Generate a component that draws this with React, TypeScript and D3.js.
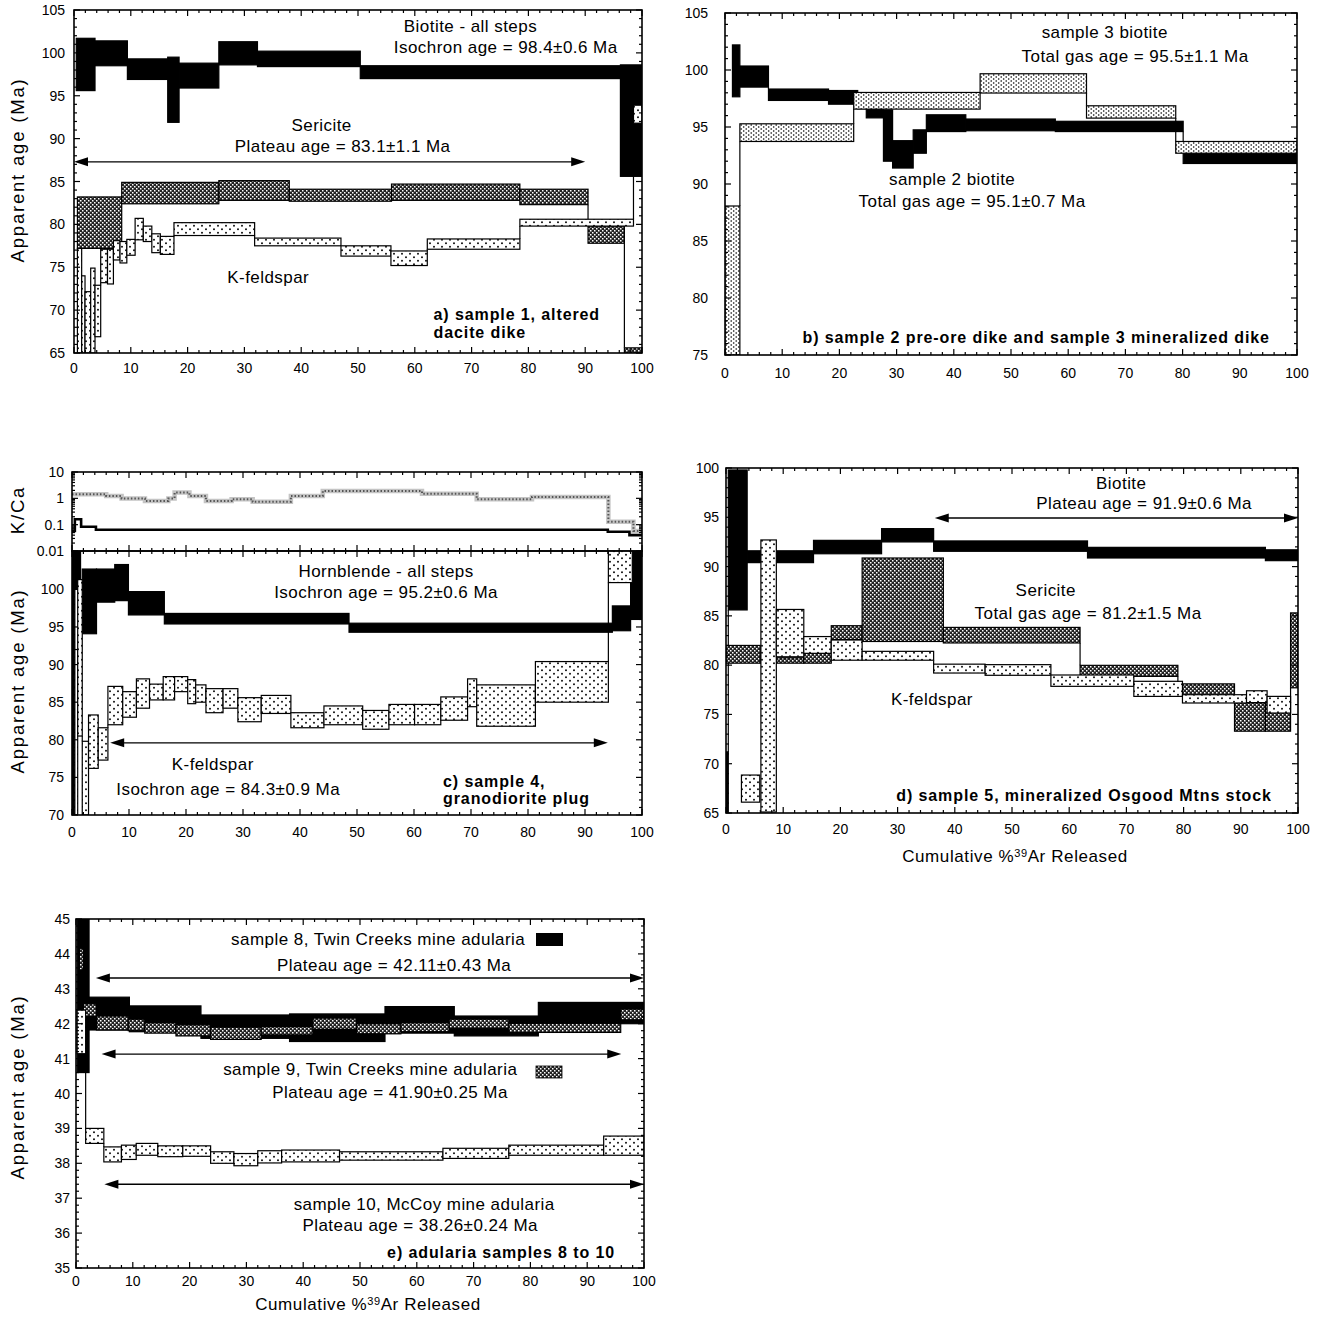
import React from 'react';
import * as d3 from 'd3';

type Step = [number, number, number, number]; // x0 %, x1 %, low age, high age
type KStep = [number, number, number];

// ---------- Panel a: sample 1 ----------
const aBiotite: Step[] = [
  [0.4, 3.7, 95.6, 101.7], [3.7, 9.4, 98.5, 101.4], [9.4, 16.5, 96.9, 99.3], [16.5, 18.5, 91.9, 99.5],
  [18.5, 25.5, 95.9, 98.8], [25.5, 32.3, 98.6, 101.3], [32.3, 50.4, 98.4, 100.2], [50.4, 96.2, 97.0, 98.5],
  [96.2, 100, 85.6, 98.6],
];
const aSericite: Step[] = [
  [0.6, 8.4, 77.2, 83.2], [8.4, 25.5, 82.4, 84.9], [25.5, 37.9, 82.8, 85.1], [37.9, 55.9, 82.7, 84.1],
  [55.9, 78.5, 82.8, 84.7], [78.5, 90.5, 82.3, 84.1], [90.5, 96.9, 77.8, 79.8], [96.9, 100, 65.0, 65.6],
];
const aKfeldspar: Step[] = [
  [0.6, 1.35, 65, 77.2], [1.35, 1.94, 65, 74.0], [1.94, 2.94, 65, 72.15], [2.94, 3.7, 65, 74.9],
  [3.7, 4.7, 66.9, 72.9], [4.7, 5.9, 73.2, 77.1], [5.9, 6.94, 73.05, 77.1], [6.94, 8.1, 75.85, 78.1],
  [8.1, 9.3, 75.5, 78.0], [9.3, 10.76, 76.4, 78.25], [10.76, 12.2, 78.2, 80.7], [12.2, 13.7, 78.0, 79.8],
  [13.7, 15.2, 76.7, 78.9], [15.2, 17.6, 76.5, 78.6], [17.6, 31.8, 78.7, 80.2], [31.8, 47.0, 77.5, 78.4],
  [47.0, 55.8, 76.3, 77.5], [55.8, 62.2, 75.2, 76.9], [62.2, 78.5, 77.1, 78.3], [78.5, 98.5, 79.8, 80.6],
  [98.5, 100, 91.8, 93.9],
];
const aArrows = [[0, 90, 87.3]];
const aYTicks = [65, 70, 75, 80, 85, 90, 95, 100, 105];

// ---------- Panel b: samples 2 and 3 ----------
const bSample2: Step[] = [
  [1.3, 2.6, 97.65, 102.2], [2.6, 7.6, 98.5, 100.35], [7.6, 18.1, 97.33, 98.33], [18.1, 23.2, 97.0, 98.2],
  [23.2, 24.7, 96.6, 98.0], [24.7, 27.7, 95.8, 96.7], [27.7, 29.3, 92.0, 96.5], [29.3, 32.9, 91.4, 93.8],
  [32.9, 35.2, 92.7, 94.75], [35.2, 42.1, 94.6, 96.07], [42.1, 57.75, 94.67, 95.7], [57.75, 80.1, 94.6, 95.5],
  [80.1, 100, 91.8, 92.85],
];
const bSample3: Step[] = [
  [0, 2.6, 75, 88.07], [2.6, 22.5, 93.73, 95.28], [22.5, 44.6, 96.57, 98.03], [44.6, 63.2, 97.98, 99.67],
  [63.2, 78.8, 95.78, 96.86], [78.8, 100, 92.7, 93.73],
];
const bYTicks = [75, 80, 85, 90, 95, 100, 105];

// ---------- Panel c: sample 4 ----------
const cHornblende: Step[] = [
  [0, 0.5, 70, 105.1], [0.5, 1.5, 100, 105.1], [1.8, 4.3, 94.1, 102.7], [4.3, 7.5, 98.3, 102.7],
  [7.5, 9.9, 98.5, 103.3], [9.9, 16.2, 96.6, 99.7], [16.2, 48.6, 95.4, 96.8], [48.6, 94.8, 94.3, 95.5],
  [94.8, 98.0, 94.5, 97.8], [98.0, 100, 96.0, 105.1],
];
const cKfeldspar: Step[] = [
  [0.5, 1.0, 70, 92.0], [1.0, 1.8, 80.5, 101.3], [1.8, 2.9, 70, 79.8], [2.9, 4.6, 76.2, 83.3],
  [4.6, 6.3, 77.3, 81.6], [6.3, 8.9, 82.0, 87.1], [8.9, 11.3, 83.0, 86.4], [11.3, 13.6, 84.2, 88.1],
  [13.6, 16.0, 85.3, 87.4], [16.0, 18.0, 85.3, 88.4], [18.0, 20.3, 86.4, 88.4], [20.3, 21.7, 84.8, 88.0],
  [21.7, 23.5, 85.0, 87.3], [23.5, 26.5, 83.6, 86.8], [26.5, 29.1, 84.2, 86.8], [29.1, 33.2, 82.4, 85.6],
  [33.2, 38.4, 83.5, 85.9], [38.4, 44.2, 81.6, 83.6], [44.2, 51.0, 82.0, 84.5], [51.0, 55.6, 81.4, 83.9],
  [55.6, 60.1, 82.0, 84.7], [60.1, 64.7, 82.0, 84.7], [64.7, 69.4, 82.6, 85.7], [69.4, 71.0, 84.4, 88.1],
  [71.0, 81.3, 81.8, 87.3], [81.3, 94.1, 85.0, 90.4], [94.1, 98.3, 100.9, 105.1],
];
const cKCaHornblende: KStep[] = [
  [0, 0.5, 0.058], [0.5, 1.6, 0.16], [1.6, 4.2, 0.083], [4.2, 94, 0.064], [94, 97.8, 0.054], [97.8, 100, 0.04],
];
const cKCaKfeldspar: KStep[] = [
  [0, 6, 1.42], [6, 8.7, 1.23], [8.7, 12.8, 0.99], [12.8, 16.9, 0.8], [16.9, 18, 0.99], [18, 20.6, 1.65],
  [20.6, 23.5, 1.23], [23.5, 28, 0.8], [28, 31.7, 0.92], [31.7, 38.4, 0.74], [38.4, 44, 1.23], [44, 61.4, 1.9],
  [61.4, 71, 1.5], [71, 80.7, 0.92], [80.7, 94.1, 1.13], [94.1, 98.5, 0.13], [98.5, 100, 0.058],
];
const cArrows = [[6.7, 94, 79.6]];
const cYTicks = [70, 75, 80, 85, 90, 95, 100];
const cKCaTicks = [0.01, 0.1, 1, 10];

// ---------- Panel d: sample 5 ----------
const dBiotite: Step[] = [
  [0, 0.4, 65, 71.2], [0.4, 3.7, 85.6, 99.8], [3.7, 15.3, 90.4, 91.6], [15.3, 27.2, 91.3, 92.66],
  [27.2, 36.3, 92.5, 93.85], [36.3, 63.2, 91.55, 92.6], [63.2, 94.3, 90.87, 91.95], [94.3, 100, 90.6, 91.7],
];
const dSericite: Step[] = [
  [0, 6.0, 80.2, 82.0], [6.0, 8.8, 80.2, 81.0], [8.8, 13.6, 80.2, 80.75], [13.6, 18.4, 80.2, 81.2],
  [18.4, 23.8, 82.6, 84.0], [23.8, 38.0, 82.4, 90.87], [38.0, 61.9, 82.25, 83.83], [61.9, 79.0, 78.86, 79.98],
  [79.0, 88.9, 76.9, 78.1], [88.9, 94.3, 73.3, 76.2], [94.3, 98.7, 73.3, 76.2], [98.7, 100, 77.7, 85.3],
];
const dKfeldspar: Step[] = [
  [2.7, 5.9, 66.1, 68.85], [6.1, 8.8, 65.1, 92.7], [8.8, 13.6, 80.85, 85.65], [13.6, 18.4, 81.2, 82.9],
  [18.4, 23.8, 80.5, 82.55], [23.8, 36.3, 80.5, 81.4], [36.3, 45.3, 79.2, 80.1], [45.3, 56.8, 78.97, 80.05],
  [56.8, 71.3, 77.85, 79.0], [71.3, 79.8, 76.83, 78.36], [79.8, 91.0, 76.16, 77.0], [91.0, 94.6, 76.2, 77.4],
  [94.6, 98.7, 75.14, 76.83],
];
const dArrows = [[36.5, 100, 94.93]];
const dYTicks = [65, 70, 75, 80, 85, 90, 95, 100];

// ---------- Panel e: adularia samples 8 to 10 ----------
const eSample8: Step[] = [
  [0.2, 2.3, 40.6, 45.5], [2.3, 9.4, 41.82, 42.76], [9.4, 22.0, 41.77, 42.51], [22.0, 37.6, 41.58, 42.25],
  [37.6, 54.4, 41.49, 42.28], [54.4, 66.6, 41.73, 42.49], [66.6, 81.4, 41.65, 42.22], [81.4, 100, 42.0, 42.61],
];
const eSample9: Step[] = [
  [0.6, 1.3, 43.54, 44.16], [1.3, 3.6, 42.21, 42.57], [3.6, 9.2, 41.82, 42.22], [9.2, 12.1, 41.8, 42.13],
  [12.1, 17.6, 41.73, 42.03], [17.6, 23.7, 41.65, 41.97], [23.7, 32.6, 41.55, 41.9], [32.6, 41.7, 41.68, 41.92],
  [41.7, 49.4, 41.84, 42.16], [49.4, 57.2, 41.71, 42.0], [57.2, 65.7, 41.77, 42.03], [65.7, 76.2, 41.87, 42.13],
  [76.2, 95.9, 41.75, 42.01], [95.9, 100, 42.11, 42.42],
];
const eSample10: Step[] = [
  [0.2, 1.7, 41.14, 42.39], [1.7, 4.9, 38.57, 39.0], [4.9, 8.0, 38.04, 38.47], [8.0, 10.6, 38.11, 38.52],
  [10.6, 14.4, 38.23, 38.57], [14.4, 18.8, 38.19, 38.5], [18.8, 23.7, 38.2, 38.5], [23.7, 27.8, 38.0, 38.33],
  [27.8, 32.0, 37.93, 38.28], [32.0, 36.2, 38.01, 38.36], [36.2, 46.4, 38.04, 38.38], [46.4, 64.6, 38.09, 38.33],
  [64.6, 76.2, 38.14, 38.43], [76.2, 92.9, 38.23, 38.52], [92.9, 100, 38.23, 38.78],
];
const eArrows = [[3.5, 100, 43.31], [4.5, 96, 41.13], [5, 100, 37.4]];
const eYTicks = [35, 36, 37, 38, 39, 40, 41, 42, 43, 44, 45];

const xTickValues = [0, 10, 20, 30, 40, 50, 60, 70, 80, 90, 100];

const FONT = '"Liberation Sans", Arial, Helvetica, sans-serif';

function Spectrum({ steps, fill, xs, ys }: any) {
  const conns: any[] = [];
  for (let i = 1; i < steps.length; i++) {
    const p = steps[i - 1], n = steps[i];
    if (Math.abs(p[1] - n[0]) > 0.6) continue;
    let y1: number | null = null, y2: number | null = null;
    if (p[3] < n[2]) { y1 = p[3]; y2 = n[2]; }
    else if (p[2] > n[3]) { y1 = n[3]; y2 = p[2]; }
    if (y1 !== null) conns.push(
      <line key={'c' + i} x1={xs(n[0])} x2={xs(n[0])} y1={ys(y1)} y2={ys(y2 as number)} stroke="#000" strokeWidth={1.2} />
    );
  }
  return (
    <g>
      {conns}
      {steps.map((s: Step, i: number) => (
        <rect key={i} x={xs(s[0])} y={ys(s[3])} width={Math.max(0.5, xs(s[1]) - xs(s[0]))}
          height={Math.max(0.5, ys(s[2]) - ys(s[3]))} fill={fill} stroke="#000" strokeWidth={1.2} />
      ))}
    </g>
  );
}

function Arrow({ xs, ys, a, b, y }: any) {
  const X1 = xs(a), X2 = xs(b), Y = ys(y);
  return (
    <g>
      <line x1={X1 + 4} x2={X2 - 4} y1={Y} y2={Y} stroke="#000" strokeWidth={1.3} />
      <polygon points={`${X1},${Y} ${X1 + 14},${Y - 4.5} ${X1 + 14},${Y + 4.5}`} fill="#000" />
      <polygon points={`${X2},${Y} ${X2 - 14},${Y - 4.5} ${X2 - 14},${Y + 4.5}`} fill="#000" />
    </g>
  );
}

function Frame({ xs, ys, yTicks, yMinorStep, xLabels = true, yFmt = (v: number) => String(v), yOff = 8, xOff = 20, bottomTicks = true, topTicks = true }: any) {
  const [L, R] = xs.range();
  const [B, T] = ys.range();
  const els: any[] = [];
  d3.range(0, 101, 2).forEach((v) => {
    const x = xs(v);
    const len = v % 10 === 0 ? 6 : 3;
    if (bottomTicks) els.push(<line key={'xb' + v} x1={x} x2={x} y1={B} y2={B - len} />);
    if (topTicks) els.push(<line key={'xt' + v} x1={x} x2={x} y1={T} y2={T + len} />);
  });
  const [d0, d1] = ys.domain();
  const majors = new Set(yTicks.map((v: number) => Math.round(v * 100)));
  d3.range(Math.ceil(d0 / yMinorStep - 1e-6) * yMinorStep, d1 + 1e-6, yMinorStep).forEach((v: number, i: number) => {
    const vv = Math.round(v * 100);
    const y = ys(v);
    const len = majors.has(vv) ? 6 : 3;
    els.push(<line key={'yl' + i} x1={L} x2={L + len} y1={y} y2={y} />);
    els.push(<line key={'yr' + i} x1={R} x2={R - len} y1={y} y2={y} />);
  });
  return (
    <g>
      <g stroke="#000" strokeWidth={1.2}>{els}</g>
      <rect x={L} y={T} width={R - L} height={B - T} fill="none" stroke="#000" strokeWidth={1.6} />
      <g fontFamily={FONT} fontSize={14} fill="#000">
        {yTicks.map((v: number) => (
          <text key={'yt' + v} x={L - yOff} y={ys(v) + 5} textAnchor="end">{yFmt(v)}</text>
        ))}
        {xLabels && xTickValues.map((v) => (
          <text key={'xl' + v} x={xs(v)} y={B + xOff} textAnchor="middle">{v}</text>
        ))}
      </g>
    </g>
  );
}

function Txt({ x, y, children, anchor = 'middle', bold = false }: any) {
  return (
    <text x={x} y={y} textAnchor={anchor} fontFamily={FONT} fontSize={bold ? 16 : 17}
      letterSpacing={bold ? 0.9 : 0.45}
      fontWeight={bold ? 'bold' : 'normal'} fill="#000">{children}</text>
  );
}

function YTitle({ x, y, children }: any) {
  return (
    <text transform={`translate(${x},${y}) rotate(-90)`} textAnchor="middle" fontFamily={FONT} fontSize={18.5}
      letterSpacing={1.8} fill="#000">{children}</text>
  );
}

function XTitle({ x, y }: any) {
  return (
    <text x={x} y={y} textAnchor="middle" fontFamily={FONT} fontSize={17} letterSpacing={0.6} fill="#000">
      Cumulative %<tspan dy={-5} fontSize={11}>39</tspan><tspan dy={5}>Ar Released</tspan>
    </text>
  );
}

function kcaPath(steps: KStep[], xs: any, ks: any) {
  const pts: [number, number][] = [];
  steps.forEach((s) => { pts.push([xs(s[0]), ks(s[2])]); pts.push([xs(s[1]), ks(s[2])]); });
  return d3.line()(pts) as string;
}

export default function App() {
  const axs = d3.scaleLinear().domain([0, 100]).range([74, 642]);
  const ays = d3.scaleLinear().domain([65, 105]).range([353, 10]);
  const bxs = d3.scaleLinear().domain([0, 100]).range([725, 1297]);
  const bys = d3.scaleLinear().domain([75, 105]).range([355, 13]);
  const cxs = d3.scaleLinear().domain([0, 100]).range([72, 642]);
  const cys = d3.scaleLinear().domain([70, 105.1]).range([815, 551]);
  const cks = d3.scaleLog().domain([0.01, 10]).range([551, 472]);
  const dxs = d3.scaleLinear().domain([0, 100]).range([726, 1298]);
  const dys = d3.scaleLinear().domain([65, 100]).range([813, 468]);
  const exs = d3.scaleLinear().domain([0, 100]).range([76, 644]);
  const eys = d3.scaleLinear().domain([35, 45]).range([1268, 919]);

  const clip = (id: string, xs: any, ys: any) => {
    const [L, R] = xs.range(); const [B, T] = ys.range();
    return <clipPath id={id}><rect x={L} y={T} width={R - L} height={B - T} /></clipPath>;
  };

  const kMinor: number[] = [];
  [0.01, 0.1, 1].forEach((dec) => { for (let m = 1; m <= 9; m++) kMinor.push(dec * m); });
  kMinor.push(10);

  return (
    <svg width={1325} height={1318} style={{ position: 'absolute', left: 0, top: 0, background: '#fff' }}>
      <defs>
        <pattern id="chk" width="4" height="4" patternUnits="userSpaceOnUse">
          <rect width="4" height="4" fill="#222" />
          <rect x="0" y="0" width="1.5" height="1.5" fill="#fff" />
          <rect x="2" y="2" width="1.5" height="1.5" fill="#fff" />
        </pattern>
        <pattern id="dot" width="8" height="7" patternUnits="userSpaceOnUse">
          <rect width="8" height="7" fill="#fff" />
          <circle cx="2" cy="1.8" r="0.95" fill="#000" />
          <circle cx="6" cy="5.3" r="0.95" fill="#000" />
        </pattern>
        <pattern id="dotd" width="5" height="4" patternUnits="userSpaceOnUse">
          <rect width="5" height="4" fill="#fff" />
          <circle cx="1.2" cy="1" r="0.8" fill="#000" />
          <circle cx="3.7" cy="3" r="0.8" fill="#000" />
        </pattern>
        {clip('ca', axs, ays)}
        {clip('cb', bxs, bys)}
        {clip('cc', cxs, cys)}
        {clip('cck', cxs, cks)}
        {clip('cd', dxs, dys)}
        {clip('ce', exs, eys)}
      </defs>
      <rect width={1325} height={1318} fill="#fff" />

      {/* Panel a */}
      <g clipPath="url(#ca)">
        <Spectrum steps={aBiotite} fill="#000" xs={axs} ys={ays} />
        <Spectrum steps={aSericite} fill="url(#chk)" xs={axs} ys={ays} />
        <Spectrum steps={aKfeldspar} fill="url(#dot)" xs={axs} ys={ays} />
      </g>
      {aArrows.map((a, i) => <Arrow key={i} xs={axs} ys={ays} a={a[0]} b={a[1]} y={a[2]} />)}
      <Frame xs={axs} ys={ays} yTicks={aYTicks} yMinorStep={1} yOff={9} xOff={20} />
      <Txt x={axs(69.8)} y={ays(102.4)}>Biotite - all steps</Txt>
      <Txt x={axs(76)} y={ays(100)}>Isochron age = 98.4±0.6 Ma</Txt>
      <Txt x={axs(43.6)} y={ays(90.9)}>Sericite</Txt>
      <Txt x={axs(47.3)} y={ays(88.4)}>Plateau age = 83.1±1.1 Ma</Txt>
      <Txt x={axs(34.2)} y={ays(73.2)}>K-feldspar</Txt>
      <Txt x={axs(63.3)} y={ays(68.85)} anchor="start" bold>a) sample 1, altered</Txt>
      <Txt x={axs(63.3)} y={ays(66.75)} anchor="start" bold>dacite dike</Txt>
      <YTitle x={24} y={170}>Apparent age (Ma)</YTitle>

      {/* Panel b */}
      <g clipPath="url(#cb)">
        <Spectrum steps={bSample2} fill="#000" xs={bxs} ys={bys} />
        <Spectrum steps={bSample3} fill="url(#dotd)" xs={bxs} ys={bys} />
      </g>
      <Frame xs={bxs} ys={bys} yTicks={bYTicks} yMinorStep={1} yOff={17} xOff={23} />
      <Txt x={bxs(66.4)} y={bys(102.8)}>sample 3 biotite</Txt>
      <Txt x={bxs(71.7)} y={bys(100.7)}>Total gas age = 95.5±1.1 Ma</Txt>
      <Txt x={bxs(39.7)} y={bys(89.9)}>sample 2 biotite</Txt>
      <Txt x={bxs(43.2)} y={bys(88.0)}>Total gas age = 95.1±0.7 Ma</Txt>
      <Txt x={bxs(54.4)} y={bys(76.05)} bold>b) sample 2 pre-ore dike and sample 3 mineralized dike</Txt>

      {/* Panel c: K/Ca */}
      <g clipPath="url(#cck)">
        <path d={kcaPath(cKCaKfeldspar, cxs, cks)} fill="none" stroke="#c4c4c4" strokeWidth={4.5} />
        <path d={kcaPath(cKCaKfeldspar, cxs, cks)} fill="none" stroke="#555" strokeWidth={2} strokeDasharray="1.5 2" />
        <path d={kcaPath(cKCaHornblende, cxs, cks)} fill="none" stroke="#000" strokeWidth={2.6} />
      </g>
      <g stroke="#000" strokeWidth={1.2}>
        {kMinor.map((v, i) => {
          const y = cks(v); const len = [0.01, 0.1, 1, 10].some((m) => Math.abs(m - v) < 1e-9) ? 6 : 3;
          return (
            <g key={'km' + i}>
              <line x1={cxs(0)} x2={cxs(0) + len} y1={y} y2={y} />
              <line x1={cxs(100)} x2={cxs(100) - len} y1={y} y2={y} />
            </g>
          );
        })}
        {d3.range(0, 101, 2).map((v) => {
          const len = v % 10 === 0 ? 6 : 3;
          return (
            <g key={'kx' + v}>
              <line x1={cxs(v)} x2={cxs(v)} y1={472} y2={472 + len} />
              <line x1={cxs(v)} x2={cxs(v)} y1={551} y2={551 - len} />
            </g>
          );
        })}
      </g>
      <rect x={cxs(0)} y={472} width={cxs(100) - cxs(0)} height={79} fill="none" stroke="#000" strokeWidth={1.6} />
      <g fontFamily={FONT} fontSize={14}>
        {cKCaTicks.map((v) => (
          <text key={'kt' + v} x={cxs(0) - 8} y={cks(v) + 5} textAnchor="end">{String(v)}</text>
        ))}
      </g>
      <YTitle x={24} y={510}>K/Ca</YTitle>

      {/* Panel c: main */}
      <g clipPath="url(#cc)">
        <Spectrum steps={cHornblende} fill="#000" xs={cxs} ys={cys} />
        <Spectrum steps={cKfeldspar} fill="url(#dot)" xs={cxs} ys={cys} />
      </g>
      {cArrows.map((a, i) => <Arrow key={i} xs={cxs} ys={cys} a={a[0]} b={a[1]} y={a[2]} />)}
      <Frame xs={cxs} ys={cys} yTicks={cYTicks} yMinorStep={1} yOff={8} xOff={22} />
      <Txt x={cxs(55.1)} y={cys(101.65)}>Hornblende - all steps</Txt>
      <Txt x={cxs(55.1)} y={cys(98.85)}>Isochron age = 95.2±0.6 Ma</Txt>
      <Txt x={cxs(24.7)} y={cys(76.0)}>K-feldspar</Txt>
      <Txt x={cxs(27.4)} y={cys(72.66)}>Isochron age = 84.3±0.9 Ma</Txt>
      <Txt x={cxs(65.1)} y={cys(73.7)} anchor="start" bold>c) sample 4,</Txt>
      <Txt x={cxs(65.1)} y={cys(71.46)} anchor="start" bold>granodiorite plug</Txt>
      <YTitle x={24} y={681}>Apparent age (Ma)</YTitle>

      {/* Panel d */}
      <g clipPath="url(#cd)">
        <Spectrum steps={dBiotite} fill="#000" xs={dxs} ys={dys} />
        <Spectrum steps={dSericite} fill="url(#chk)" xs={dxs} ys={dys} />
        <Spectrum steps={dKfeldspar} fill="url(#dot)" xs={dxs} ys={dys} />
      </g>
      {dArrows.map((a, i) => <Arrow key={i} xs={dxs} ys={dys} a={a[0]} b={a[1]} y={a[2]} />)}
      <Frame xs={dxs} ys={dys} yTicks={dYTicks} yMinorStep={1} yOff={7} xOff={21} />
      <Txt x={dxs(69.1)} y={dys(97.87)}>Biotite</Txt>
      <Txt x={dxs(73.1)} y={dys(95.84)}>Plateau age = 91.9±0.6 Ma</Txt>
      <Txt x={dxs(55.9)} y={dys(87.0)}>Sericite</Txt>
      <Txt x={dxs(63.3)} y={dys(84.68)}>Total gas age = 81.2±1.5 Ma</Txt>
      <Txt x={dxs(36.0)} y={dys(75.96)}>K-feldspar</Txt>
      <Txt x={dxs(62.6)} y={dys(66.22)} bold>d) sample 5, mineralized Osgood Mtns stock</Txt>
      <XTitle x={1015} y={862} />

      {/* Panel e */}
      <g clipPath="url(#ce)">
        <Spectrum steps={eSample8} fill="#000" xs={exs} ys={eys} />
        <Spectrum steps={eSample9} fill="url(#chk)" xs={exs} ys={eys} />
        <Spectrum steps={eSample10} fill="url(#dot)" xs={exs} ys={eys} />
      </g>
      {eArrows.map((a, i) => <Arrow key={i} xs={exs} ys={eys} a={a[0]} b={a[1]} y={a[2]} />)}
      <Frame xs={exs} ys={eys} yTicks={eYTicks} yMinorStep={0.2} yOff={6} xOff={18} />
      <Txt x={exs(53.2)} y={eys(44.26)}>sample 8, Twin Creeks mine adularia</Txt>
      <rect x={536} y={933} width={27} height={13} fill="#000" />
      <Txt x={exs(56)} y={eys(43.52)}>Plateau age = 42.11±0.43 Ma</Txt>
      <Txt x={exs(51.8)} y={eys(40.53)}>sample 9, Twin Creeks mine adularia</Txt>
      <rect x={536} y={1066} width={26} height={12} fill="url(#chk)" stroke="#000" strokeWidth={0.8} />
      <Txt x={exs(55.3)} y={eys(39.87)}>Plateau age = 41.90±0.25 Ma</Txt>
      <Txt x={exs(61.3)} y={eys(36.65)}>sample 10, McCoy mine adularia</Txt>
      <Txt x={exs(60.6)} y={eys(36.05)}>Plateau age = 38.26±0.24 Ma</Txt>
      <Txt x={exs(94.9)} y={eys(35.3)} anchor="end" bold>e) adularia samples 8 to 10</Txt>
      <YTitle x={24} y={1087}>Apparent age (Ma)</YTitle>
      <XTitle x={368} y={1310} />
    </svg>
  );
}
